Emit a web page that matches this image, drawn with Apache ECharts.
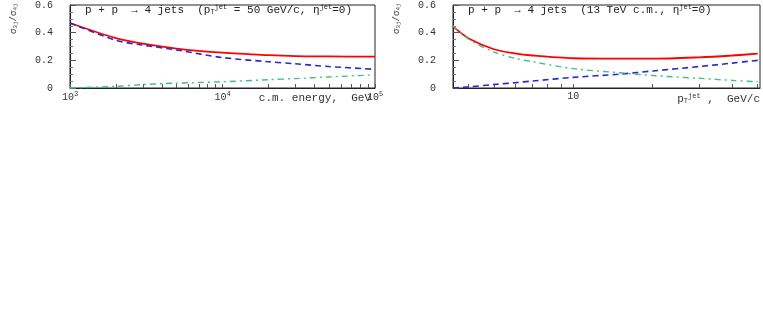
<!DOCTYPE html>
<html>
<head>
<meta charset="utf-8">
<script src="https://cdn.jsdelivr.net/npm/echarts@6/dist/echarts.min.js"></script>
<style>
  html, body { margin: 0; padding: 0; background: #fff; }
  #main { width: 763px; height: 327px; }
</style>
</head>
<body>
<div id="main"></div>
<script>
// left panel: ratio vs c.m. energy (GeV), pT jet = 50 GeV/c
var energy = [1000, 2000, 3000, 5000, 10000, 20000, 30000, 50000, 100000];
var leftRed = [0.47, 0.36, 0.32, 0.285, 0.255, 0.237, 0.23, 0.228, 0.227];
var leftBlue = [0.47, 0.345, 0.31, 0.275, 0.22, 0.19, 0.175, 0.155, 0.135];
var leftGreen = [0.0, 0.012, 0.025, 0.035, 0.045, 0.06, 0.068, 0.08, 0.095];

// right panel: ratio vs pT jet (GeV/c), 13 TeV
var ptJet = [3.5, 4, 5, 6, 7, 10, 15, 20, 30, 40, 50];
var rightRed = [0.445, 0.36, 0.28, 0.25, 0.235, 0.215, 0.212, 0.212, 0.222, 0.235, 0.248];
var rightGreen = [0.45, 0.355, 0.26, 0.215, 0.19, 0.14, 0.11, 0.09, 0.07, 0.055, 0.045];
var rightBlue = [0.0, 0.008, 0.025, 0.038, 0.05, 0.077, 0.1, 0.123, 0.155, 0.18, 0.2];

var energyTicks = [1000, 2000, 3000, 4000, 5000, 6000, 7000, 8000, 9000,
  10000, 20000, 30000, 40000, 50000, 60000, 70000, 80000, 90000, 100000];
var energyLabels = [1000, 10000, 100000];
var ptTicks = [4, 5, 6, 7, 8, 9, 10, 20, 30, 40, 50];
var ptLabels = [10];

var FONT = 'Liberation Mono';
var RED = '#ff0000', BLUE = '#2a2acc', GREEN = '#3cbf88';

function pairs(xs, ys) {
  return xs.map(function (x, i) { return [x, ys[i]]; });
}

var myChart = echarts.init(document.getElementById('main'));

function yAxis(idx) {
  return {
    type: 'value', gridIndex: idx, min: 0, max: 0.6, interval: 0.2,
    axisLine: { show: true, lineStyle: { color: '#222', width: 1 } },
    axisTick: { show: true, inside: true, length: 6, lineStyle: { color: '#555' } },
    minorTick: { show: true, splitNumber: 4, length: 3, lineStyle: { color: '#777' } },
    splitLine: { show: false },
    axisLabel: {
      margin: 17, fontFamily: FONT, fontSize: 10, color: '#333',
      formatter: function (v) { return v === 0 ? '0' : v.toFixed(1); }
    }
  };
}

var sup = { fontSize: 7, fontFamily: FONT, color: '#333', verticalAlign: 'top', padding: [0, 0, 6, 0] };
var sub = { fontSize: 7, fontFamily: FONT, color: '#333', padding: [4, 0, 0, 0] };
var ySub = { fontSize: 6, fontFamily: FONT, color: '#444', padding: [3, 0, 0, 0] };
var textFont = '11px "Liberation Mono"';

var option = {
  animation: false,
  grid: [
    { left: 70, top: 2, width: 305, height: 86, show: true, borderColor: '#222', borderWidth: 1 },
    { left: 453, top: 2, width: 307, height: 86, show: true, borderColor: '#222', borderWidth: 1 }
  ],
  xAxis: [
    {
      type: 'log', gridIndex: 0, logBase: 10, min: 1000, max: 100000,
      axisLine: { show: true, lineStyle: { color: '#222' } },
      axisTick: { show: true, inside: true, length: 4, customValues: energyTicks, lineStyle: { color: '#555' } },
      splitLine: { show: false },
      axisLabel: {
        customValues: energyLabels, margin: 3, fontFamily: FONT, fontSize: 10, color: '#333',
        formatter: function (v) { return '10{sup|' + Math.round(Math.log10(v)) + '}'; },
        rich: { sup: sup }
      }
    },
    {
      type: 'log', gridIndex: 1, logBase: 10, min: 3.5, max: 51,
      axisLine: { show: true, lineStyle: { color: '#222' } },
      axisTick: { show: true, inside: true, length: 4, customValues: ptTicks, lineStyle: { color: '#555' } },
      splitLine: { show: false },
      axisLabel: {
        customValues: ptLabels, margin: 3, fontFamily: FONT, fontSize: 10, color: '#333',
        formatter: function (v) { return String(v); }
      }
    }
  ],
  yAxis: [yAxis(0), yAxis(1)],
  graphic: [
    { type: 'text', left: 85, top: 4, style: { text: 'p + p  \u2192 4 jets  (p{sub|T}{sup|jet} = 50 GeV/c, \u03b7{sup|jet}=0)', font: textFont, fill: '#222', rich: { sup: sup, sub: sub } } },
    { type: 'text', left: 468, top: 4, style: { text: 'p + p  \u2192 4 jets  (13 TeV c.m., \u03b7{sup|jet}=0)', font: textFont, fill: '#222', rich: { sup: sup } } },
    { type: 'text', right: 392, top: 93, style: { text: 'c.m. energy,  GeV', font: textFont, fill: '#333' } },
    { type: 'text', right: 3, top: 93, style: { text: 'p{sub|T}{sup|jet} ,  GeV/c', font: textFont, fill: '#333', rich: { sup: sup, sub: sub } } },
    { type: 'text', x: 9, y: 34, rotation: Math.PI / 2, style: { text: '\u03c3{sub|3j}/\u03c3{sub|4j}', font: '9px "Liberation Mono"', fill: '#444', rich: { sub: ySub } } },
    { type: 'text', x: 392, y: 34, rotation: Math.PI / 2, style: { text: '\u03c3{sub|3j}/\u03c3{sub|4j}', font: '9px "Liberation Mono"', fill: '#444', rich: { sub: ySub } } }
  ],
  series: [
    { type: 'line', xAxisIndex: 0, yAxisIndex: 0, data: pairs(energy, leftRed), smooth: 0.3, symbol: 'none', lineStyle: { color: RED, width: 1.8 } },
    { type: 'line', xAxisIndex: 0, yAxisIndex: 0, data: pairs(energy, leftBlue), smooth: 0.3, symbol: 'none', lineStyle: { color: BLUE, width: 1.6, type: [6, 4] } },
    { type: 'line', xAxisIndex: 0, yAxisIndex: 0, data: pairs(energy, leftGreen), smooth: 0.3, symbol: 'none', lineStyle: { color: GREEN, width: 1.4, type: [6, 4, 2, 4] } },
    { type: 'line', xAxisIndex: 1, yAxisIndex: 1, data: pairs(ptJet, rightRed), smooth: 0.3, symbol: 'none', lineStyle: { color: RED, width: 1.8 } },
    { type: 'line', xAxisIndex: 1, yAxisIndex: 1, data: pairs(ptJet, rightBlue), smooth: 0.3, symbol: 'none', lineStyle: { color: BLUE, width: 1.6, type: [6, 4] } },
    { type: 'line', xAxisIndex: 1, yAxisIndex: 1, data: pairs(ptJet, rightGreen), smooth: 0.3, symbol: 'none', lineStyle: { color: GREEN, width: 1.4, type: [6, 4, 2, 4] } }
  ]
};

myChart.setOption(option);
</script>
</body>
</html>
